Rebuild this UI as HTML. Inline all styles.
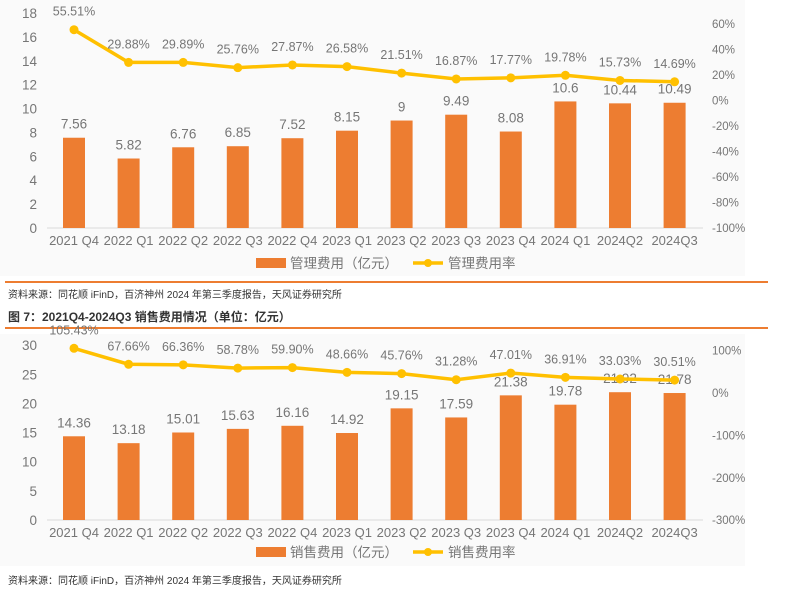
<!DOCTYPE html>
<html><head><meta charset="utf-8"><style>
body{margin:0;background:#fff;font-family:"Liberation Sans","Noto Sans CJK SC",sans-serif;}
svg text{font-family:"Liberation Sans","Noto Sans CJK SC",sans-serif;}
</style></head><body>
<svg id="s" width="799" height="595" xmlns="http://www.w3.org/2000/svg">
<rect x="0" y="0" width="745" height="276" fill="#fafafa"/>
<rect x="0" y="334" width="745" height="232" fill="#fafafa"/>
<line x1="5" y1="282" x2="768" y2="282" stroke="#ed7d31" stroke-width="2"/>
<text x="8" y="298" font-size="10" fill="#333">资料来源：同花顺 iFinD，百济神州 2024 年第三季度报告，天风证券研究所</text>
<text x="8" y="321" font-size="12" font-weight="bold" fill="#333">图 7：2021Q4-2024Q3 销售费用情况（单位：亿元）</text>
<line x1="5" y1="328" x2="768" y2="328" stroke="#ed7d31" stroke-width="2"/>
<text x="8" y="584" font-size="10" fill="#333">资料来源：同花顺 iFinD，百济神州 2024 年第三季度报告，天风证券研究所</text>
</svg>
<script>
const categories=["2021 Q4","2022 Q1","2022 Q2","2022 Q3","2022 Q4","2023 Q1","2023 Q2","2023 Q3","2023 Q4","2024 Q1","2024Q2","2024Q3"];
const mgmtValues=[7.56,5.82,6.76,6.85,7.52,8.15,9,9.49,8.08,10.6,10.44,10.49];
const mgmtRates=[55.51,29.88,29.89,25.76,27.87,26.58,21.51,16.87,17.77,19.78,15.73,14.69];
const salesValues=[14.36,13.18,15.01,15.63,16.16,14.92,19.15,17.59,21.38,19.78,21.92,21.78];
const salesRates=[105.43,67.66,66.36,58.78,59.90,48.66,45.76,31.28,47.01,36.91,33.03,30.51];
const leftTicks1=[0,2,4,6,8,10,12,14,16,18];
const rightTicks1=[-100,-80,-60,-40,-20,0,20,40,60];
const leftTicks2=[0,5,10,15,20,25,30];
const rightTicks2=[-300,-200,-100,0,100];
const NS="http://www.w3.org/2000/svg";
const svg=document.getElementById('s');
function el(tag,attrs,parent){const e=document.createElementNS(NS,tag);for(const k in attrs)e.setAttribute(k,attrs[k]);(parent||svg).appendChild(e);return e;}
function txt(x,y,s,attrs,parent){const t=el('text',Object.assign({x:x,y:y,'font-size':12,fill:'#767676'},attrs||{}),parent);t.textContent=s;return t;}
function xPos(i){return 74+i*54.6;}
function drawChart(cfg){
  const g=el('g',{});
  
  
  const yL=v=>cfg.y0-(v-cfg.lMin)*cfg.lScale;
  const yR=v=>cfg.r0-v*cfg.rScale;
  cfg.leftTicks.forEach(v=>{const t=txt(37,yL(v)+5,String(v),{'text-anchor':'end','font-size':13.5},g);
    
    });
  cfg.rightTicks.forEach(v=>{const t=txt(712,yR(v)+4,v+'%',{'font-size':11.5},g);
    
    });
  const ax=el('line',{x1:47,y1:cfg.y0,x2:703,y2:cfg.y0,stroke:'#d9d9d9'},g);
  
  
  categories.forEach((c,i)=>{const t=txt(xPos(i),cfg.y0+17,c,{'text-anchor':'middle','font-size':13},g);
    
    });
  cfg.values.forEach((v,i)=>{const top=yL(v);
    const b=el('rect',{x:xPos(i)-11,y:top,width:22,height:cfg.y0-top,fill:'#ed7d31'},g);
    
    
    const t=txt(xPos(i),top-9,String(v),{'text-anchor':'middle','font-size':13.5},g);
    
    });
  const pts=cfg.rates.map((r,i)=>xPos(i)+','+yR(r)).join(' ');
  const pl=el('polyline',{points:pts,fill:'none',stroke:'#ffc000','stroke-width':3.5},g);
  
  
  cfg.rates.forEach((r,i)=>{const c=el('circle',{cx:xPos(i),cy:yR(r),r:4.5,fill:'#ffc000'},g);
    
    
    const t=txt(xPos(i),yR(r)-14,r.toFixed(2)+'%',{'text-anchor':'middle','font-size':12.5},g);
    
    });
  const lg=el('g',{},g);
  
  
  const ly=cfg.legendY;
  const lb=el('rect',{x:256,y:ly-5,width:30,height:10,fill:'#ed7d31'},lg);
  
  
  const l1=txt(290,ly+5,cfg.barLabel,{'font-size':13.5},lg);
  
  
  const ll=el('line',{x1:413,y1:ly,x2:443,y2:ly,stroke:'#ffc000','stroke-width':3.5},lg);
  
  
  el('circle',{cx:428,cy:ly,r:4,fill:'#ffc000'},lg);
  const l2=txt(448,ly+5,cfg.lineLabel,{'font-size':13.5},lg);
  
  
}
drawChart({name:'management-expense-chart',values:mgmtValues,rates:mgmtRates,leftTicks:leftTicks1,rightTicks:rightTicks1,
  y0:228,lMin:0,lScale:11.94,r0:100.5,rScale:1.275,legendY:263,barLabel:'管理费用（亿元）',lineLabel:'管理费用率'});
drawChart({name:'sales-expense-chart',values:salesValues,rates:salesRates,leftTicks:leftTicks2,rightTicks:rightTicks2,
  y0:520,lMin:0,lScale:5.83,r0:393,rScale:0.424,legendY:552,barLabel:'销售费用（亿元）',lineLabel:'销售费用率'});
</script>
</body></html>
